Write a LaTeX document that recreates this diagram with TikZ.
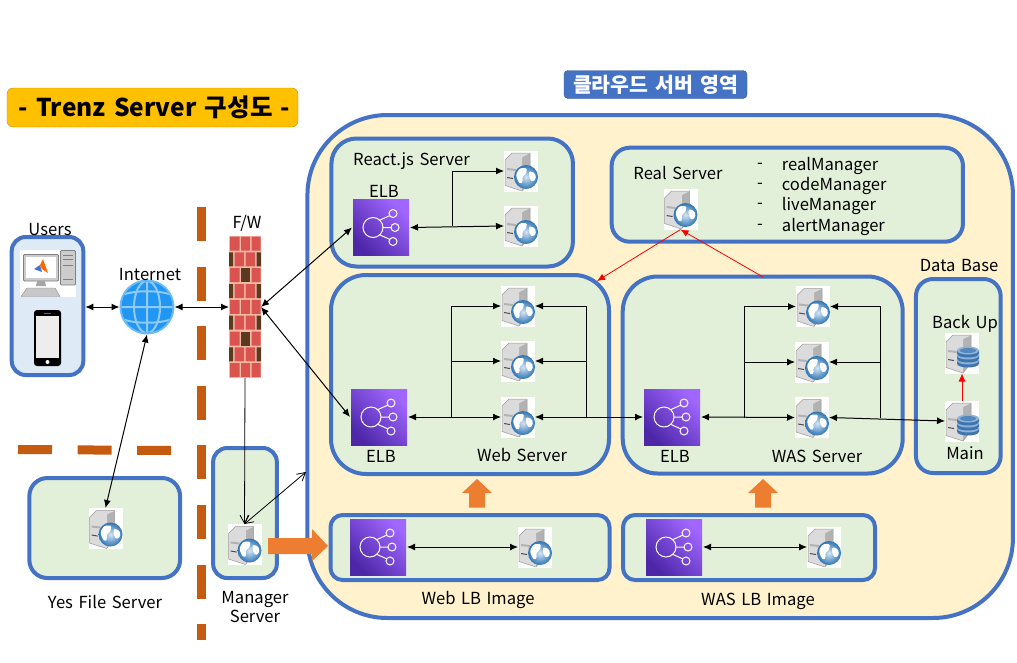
\documentclass[tikz,border=0pt]{standalone}
\usepackage{fontspec}
\setmainfont[WordSpace=1.5]{Noto Sans CJK KR}
\usetikzlibrary{arrows.meta}
\definecolor{linkblue}{HTML}{4472C4}
\definecolor{cloudfill}{HTML}{FFF2CC}
\definecolor{zonefill}{HTML}{E2F0D9}
\definecolor{userfill}{HTML}{DEEBF7}
\definecolor{cutline}{HTML}{C55A11}
\definecolor{fatorange}{HTML}{ED7D31}
\definecolor{brickred}{HTML}{D9534F}
\definecolor{brickdark}{HTML}{5A3A1E}
\definecolor{grout}{HTML}{F6B9A8}
\definecolor{elblow}{HTML}{4D27A8}
\definecolor{elbhigh}{HTML}{A166FF}
\definecolor{titlefill}{HTML}{FFC000}
\definecolor{titleline}{HTML}{BF9000}
\definecolor{netbase}{HTML}{2196F3}
\definecolor{netrim}{HTML}{6DBBF7}
\definecolor{netgrid}{HTML}{90CAF9}
\definecolor{disktop}{HTML}{8DB3DA}
\definecolor{diskside}{HTML}{3F74AE}
\definecolor{globelight}{HTML}{D5E5F3}
\definecolor{globedark}{HTML}{2E75B6}
\tikzset{
	x=1pt, y=-1pt,
	cloud/.style={draw=linkblue, line width=4pt, fill=cloudfill, inner sep=0pt, rounded corners=80pt},
	zone/.style={draw=linkblue, line width=4pt, fill=zonefill, inner sep=0pt},
	label/.style={inner sep=0pt, yshift=-1pt, font=\fontsize{16.6}{18}\selectfont},
	srv/.style={fill=white, minimum width=34pt, minimum height=41pt, inner sep=0pt, outer sep=0pt},
	elbbox/.style={left color=elblow, right color=elbhigh, shading angle=135, minimum size=56pt, inner sep=0pt, outer sep=1pt},
	both/.style={line width=1pt, {Latex[length=8pt,width=7pt]}-{Latex[length=8pt,width=7pt]}},
	tip/.style={line width=1pt, -{Latex[length=8pt,width=7pt]}},
	thinboth/.style={line width=0.8pt, {Straight Barb[length=8pt,width=9pt]}-{Straight Barb[length=8pt,width=9pt]}},
	redtip/.style={line width=0.8pt, red, -{Latex[length=8pt,width=7pt]}},
	pics/elbicon/.style={code={
		\draw[white, line width=1pt] (-8, 0) circle (10);
		\draw[white, line width=1pt] (12, -14) circle (4) (14, 0) circle (4) (12, 14) circle (4);
		\draw[white, line width=1pt] (2, 0) -- (10, 0) (-2, -7) -- (9, -12) (-2, 7) -- (9, 12);
	}},
	pics/tower/.style={code={
		\fill[black!30] (1, -14) -- (9, -18) -- (9, 10) -- (1, 20) -- cycle;
		\fill[black!14] (-16, -11) -- (-9, -18) -- (9, -18) -- (1, -14) -- (1, 20) -- (-16, 14.5) -- cycle;
		\draw[black!40, line width=0.5pt, line join=round] (-16, -11) -- (-9, -18) -- (9, -18) -- (9, 10) -- (1, 20) -- (-16, 14.5) -- cycle;
		\fill[black!30] (-14, -3) -- (-5, -2) -- (-5, 0) -- (-14, -1) -- cycle;
		\fill[black!70] (-14, 6) -- (-8, 7) -- (-8, 8) -- (-14, 7) -- cycle;
	}},
	pics/webicon/.style={code={
		\pic {tower};
		\shade[inner color=globelight, outer color=globedark] (5, 6) circle (12);
		\fill[white, rounded corners=1.5pt] (-5, 3) -- (-1, -3) -- (6, -3) -- (5, 3) -- (1, 6) -- (2, 11) -- (-1, 13) -- (-4, 8) -- cycle;
		\fill[white, rounded corners=1.5pt] (8, 0) -- (14, 2) -- (15, 8) -- (11, 11) -- (8, 6) -- cycle;
	}},
	pics/dbicon/.style={code={
		\pic {tower};
		\foreach \mid in {7.5, 2.5, -2.5} {
			\fill[diskside] (-5, \mid) -- (-5, \mid+3) .. controls (-5, \mid+8.3) and (17, \mid+8.3) .. (17, \mid+3) -- (17, \mid) -- cycle;
			\fill[disktop] (6, \mid) ellipse (11 and 4);
		}
		\fill[diskside!70!disktop] (6, -2.5) ellipse (8 and 2.5);
	}}
}
\def\webserver(#1)(#2,#3){\node[srv] (#1) at (#2,#3) {}; \pic at (#1) {webicon};}
\def\dbserver(#1)(#2,#3){\node[srv] (#1) at (#2,#3) {}; \pic at (#1) {dbicon};}
\def\elb(#1)(#2,#3){\node[elbbox] (#1) at (#2,#3) {}; \pic at (#1) {elbicon};}
\def\brickA#1{\fill[brickred] (230, #1) rectangle (239.5, #1+14) (241, #1) rectangle (250, #1+14) (251.5, #1) rectangle (260.5, #1+14);}
\def\brickB#1{\fill[brickdark] (229, #1) rectangle (233, #1+14) (256.5, #1) rectangle (261, #1+14);
	\fill[brickred] (234.5, #1) rectangle (244, #1+14) (245.5, #1) rectangle (255, #1+14);}
\def\brickC#1{\fill[brickred] (230, #1) rectangle (239.5, #1+14) (251.5, #1) rectangle (260.5, #1+14);
	\fill[brickdark] (241, #1) rectangle (250, #1+14);}
\begin{document}
\begin{tikzpicture}
	%%%%% START %%%%%
	\useasboundingbox (0, 0) rectangle (1017, 662);

	\node[rounded corners=6pt, draw=titleline, fill=titlefill, minimum width=291pt, minimum height=39pt, inner sep=0pt, font=\fontsize{24.5}{28}\bfseries\selectfont] (title) at (152.5, 107.5) {\hspace*{4pt}\raisebox{-2pt}{- Trenz Server 구성도 -}};
	\node[rounded corners=4pt, draw=linkblue!75!black, fill=linkblue, text=white, minimum width=183pt, minimum height=28pt, inner sep=0pt, font=\fontsize{20.5}{22}\bfseries\selectfont] (cloudtitle) at (655.5, 84.5) {클라우드 서버 영역};

	% cut lines
	\draw[cutline, line width=9pt, dash pattern=on 34pt off 25.6pt] (201, 207) -- (201, 640);
	\draw[cutline, line width=9pt, dash pattern=on 34pt off 25.6pt] (18, 449.5) -- (172, 450.5);

	\node[cloud, minimum width=705.5pt, minimum height=503pt] (cloud) at (660.2, 366.5) {};
	\node[zone, rounded corners=25pt, minimum width=241.5pt, minimum height=128pt] (react) at (452.2, 202.5) {};
	\node[zone, rounded corners=18pt, minimum width=351.3pt, minimum height=94pt] (real) at (787.3, 194.7) {};
	\node[zone, rounded corners=35pt, minimum width=278pt, minimum height=199pt] (web) at (470, 374.5) {};
	\node[zone, rounded corners=35pt, minimum width=280pt, minimum height=197pt] (was) at (762.7, 375) {};
	\node[zone, rounded corners=17pt, minimum width=84.7pt, minimum height=194pt] (db) at (958.3, 376) {};
	\node[zone, rounded corners=12pt, minimum width=279pt, minimum height=65pt] (weblb) at (470, 547.5) {};
	\node[zone, rounded corners=12pt, minimum width=252pt, minimum height=65pt] (waslb) at (749, 547.5) {};
	\node[zone, fill=userfill, rounded corners=14pt, minimum width=71.6pt, minimum height=138pt] (users) at (47.5, 306) {};
	\node[zone, rounded corners=18pt, minimum width=150.7pt, minimum height=100pt] (yes) at (104.7, 528) {};
	\node[zone, rounded corners=14pt, minimum width=63.7pt, minimum height=130pt] (mgr) at (245, 513) {};

	% users
	\fill[white] (20, 250) rectangle (76, 297);
	\draw[black!50, fill=black!20, line width=0.8pt, rounded corners=1pt] (23.5, 254.5) rectangle (58.5, 281);
	\fill[white] (26, 257) rectangle (56, 278);
	\fill[black!35] (37, 281) -- (45, 281) -- (46, 286) -- (36, 286) -- cycle;
	\fill[black!22, draw=black!45, line width=0.4pt] (27, 288) -- (55, 288) -- (60, 296.5) -- (21, 296.5) -- cycle;
	\draw[black!50, fill=black!20, line width=0.8pt, rounded corners=1pt] (60.5, 250.5) rectangle (75.5, 285);
	\draw[black!50, line width=0.8pt] (63, 255) -- (73, 255) (63, 259) -- (73, 259) (63, 265) -- (73, 265) (63, 279) -- (73, 279);
	\fill[linkblue] (34, 269) -- (40, 265) -- (42, 272) -- cycle;
	\fill[orange!80!red] (40, 265) -- (43, 259) -- (48, 273) -- (42, 269) -- cycle;
	\fill[black, rounded corners=3pt] (34, 310) rectangle (61, 366);
	\fill[black!7] (36, 316) rectangle (59, 358);
	\fill[white] (47.5, 362) circle (2);
	\fill[black!60] (44, 312.5) rectangle (51, 313.5);

	% internet
	\node[circle, fill=netrim, minimum size=55pt, inner sep=0pt, outer sep=0pt] (net) at (147, 307) {};
	\begin{scope}
		\clip (147, 307) circle (25.5);
		\fill[netbase] (120, 280) rectangle (174, 334);
		\draw[netgrid, line width=2pt] (147, 280) -- (147, 334) (147, 307) ellipse (13 and 26) (120, 307) -- (174, 307);
		\draw[netgrid, line width=2pt] (122, 295) .. controls (135, 290) and (159, 290) .. (172, 295);
		\draw[netgrid, line width=2pt] (122, 319) .. controls (135, 324) and (159, 324) .. (172, 319);
	\end{scope}

	% firewall
	\node[fill=grout, minimum width=32pt, minimum height=142pt, inner sep=0pt, outer sep=0pt] (fw) at (245, 307) {};
	\brickA{236.5} \brickB{252.3} \brickC{268.2} \brickB{284} \brickA{299.8}
	\brickB{315.7} \brickC{331.5} \brickB{347.4} \brickA{363.2}

	% servers and balancers
	\webserver(reactone)(521, 171)
	\webserver(reacttwo)(521, 226)
	\elb(reactelb)(381, 227.5)
	\webserver(realsrv)(680.5, 209)
	\webserver(webone)(518, 306)
	\webserver(webtwo)(518, 361)
	\webserver(webthree)(518, 417)
	\elb(webelb)(379, 417)
	\webserver(wasone)(813, 306.5)
	\webserver(wastwo)(812, 362)
	\webserver(wasthree)(812, 417.5)
	\elb(waselb)(672, 417)
	\dbserver(backup)(962, 353)
	\dbserver(dbmain)(962, 421)
	\elb(weblbelb)(378, 547)
	\webserver(weblbsrv)(535, 547)
	\elb(waslbelb)(674, 547)
	\webserver(waslbsrv)(824, 547)
	\webserver(yessrv)(105.5, 528.5)
	\webserver(mgrsrv)(244.5, 544.5)

	% labels
	\node[label] (userstxt) at (50, 229) {Users};
	\node[label] (nettxt) at (150, 274) {Internet};
	\node[label] (fwtxt) at (247, 222) {F/W};
	\node[label, anchor=west] (reacttxt) at (353, 160.5) {React.js Server};
	\node[label] (reactelbtxt) at (384, 190) {ELB};
	\node[label] (realtxt) at (678, 172) {Real Server};
	\node[label, anchor=west] (dashone) at (757, 165) {-};
	\node[label, anchor=west] (dashtwo) at (757, 185) {-};
	\node[label, anchor=west] (dashthree) at (757, 205) {-};
	\node[label, anchor=west] (dashfour) at (757, 225.5) {-};
	\node[label, anchor=west] (mgrone) at (781.7, 165) {realManager};
	\node[label, anchor=west] (mgrtwo) at (781.7, 185) {codeManager};
	\node[label, anchor=west] (mgrthree) at (781.7, 205) {liveManager};
	\node[label, anchor=west] (mgrfour) at (781.7, 225.5) {alertManager};
	\node[label] (webelbtxt) at (381, 455) {ELB};
	\node[label] (webtxt) at (522, 454) {Web Server};
	\node[label] (waselbtxt) at (675, 455) {ELB};
	\node[label] (wastxt) at (817, 455) {WAS Server};
	\node[label] (dbtxt) at (959, 264.5) {Data Base};
	\node[label] (backuptxt) at (965, 322.5) {Back Up};
	\node[label] (maintxt) at (965, 452) {Main};
	\node[label] (weblbtxt) at (478, 599) {Web LB Image};
	\node[label] (waslbtxt) at (758, 600) {WAS LB Image};
	\node[label] (yestxt) at (105, 601) {Yes File Server};
	\node[label, align=center, font=\fontsize{16.6}{19.5}\selectfont] (mgrtxt) at (255, 606) {Manager\\Server};

	% fat arrows
	\fill[fatorange] (268, 538) -- (312, 538) -- (312, 529) -- (328, 546) -- (312, 561) -- (312, 554) -- (268, 554) -- cycle;
	\fill[fatorange] (477, 479) -- (492, 493) -- (485, 493) -- (485, 507.5) -- (469, 507.5) -- (469, 493) -- (462, 493) -- cycle;
	\fill[fatorange] (763, 479) -- (778, 493) -- (771, 493) -- (771, 507.5) -- (755, 507.5) -- (755, 493) -- (748, 493) -- cycle;

	% connectors
	\draw[both] (users.east |- net.west) -- (net.west);
	\draw[both] (net.east) -- (fw.west);
	\draw[both] (fw.east) -- (reactelb.west);
	\draw[both] (fw.east) -- (webelb.west);
	\draw[both] (net.south) -- (yessrv.north);
	\draw[thinboth, -{Straight Barb[length=8pt,width=9pt]}] (fw.south) -- (mgrsrv.north);
	\coordinate (cloudedge) at (306, 472);
	\draw[thinboth] (mgrsrv.north) -- (cloudedge);

	\coordinate (reactjoin) at (452, 226);
	\draw[both] (reactelb.east) -- (reacttwo.west);
	\draw[tip] (reactjoin) |- (reactone.west);

	\coordinate (webjoin) at (451, 417);
	\coordinate (webback) at (586, 417);
	\draw[both] (webelb.east) -- (webthree.west);
	\draw[tip] (webjoin) |- (webone.west);
	\draw[tip] (webjoin |- webtwo) -- (webtwo.west);
	\draw[tip] (webback) |- (webone.east);
	\draw[tip] (webback |- webtwo) -- (webtwo.east);
	\draw[both] (webthree.east) -- (waselb.west);

	\coordinate (wasjoin) at (744, 417.5);
	\coordinate (wasback) at (880, 418);
	\draw[both] (waselb.east) -- (wasthree.west);
	\draw[tip] (wasjoin) |- (wasone.west);
	\draw[tip] (wasjoin |- wastwo) -- (wastwo.west);
	\draw[tip] (wasback) |- (wasone.east);
	\draw[tip] (wasback |- wastwo) -- (wastwo.east);
	\draw[both] (wasthree.east) -- (dbmain.west);

	\draw[both] (weblbelb.east) -- (weblbsrv.west);
	\draw[both] (waslbelb.east) -- (waslbsrv.west);

	\draw[redtip] (dbmain.north) -- (backup.south);
	\coordinate (webcorner) at (597, 281);
	\coordinate (wastop) at (763, 277);
	\draw[redtip] (realsrv.south) -- (webcorner);
	\draw[redtip] (wastop) -- (realsrv.south);
	%%%%% END %%%%%
\end{tikzpicture}
\end{document}
